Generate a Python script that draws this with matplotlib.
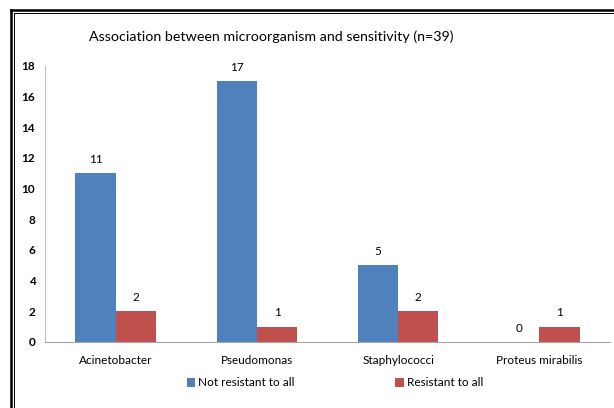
import matplotlib.pyplot as plt
import numpy as np
from matplotlib.lines import Line2D

plt.rcParams['font.family'] = ['Lato', 'DejaVu Sans']

organisms = ['Acinetobacter', 'Pseudomonas', 'Staphylococci', 'Proteus mirabilis']
not_resistant = [11, 17, 5, 0]
resistant = [2, 1, 2, 1]

blue = '#4F81BD'
red = '#C0504D'

fig = plt.figure(figsize=(6.14, 4.08), dpi=100)
ax = fig.add_axes([45/614, (408-342)/408, 565/614, 276/408])

x = np.arange(len(organisms))
w = 0.285
b1 = ax.bar(x - w/2, not_resistant, w, color=blue, label='Not resistant to all')
b2 = ax.bar(x + w/2, resistant, w, color=red, label='Resistant to all')

for bars, vals in [(b1, not_resistant), (b2, resistant)]:
    for bar, v in zip(bars, vals):
        ax.text(bar.get_x() + bar.get_width()/2, v + 0.55, str(v),
                ha='center', va='bottom', fontsize=8.5)

ax.set_xlim(-0.5, 3.5)
ax.set_ylim(0, 18)
ax.set_yticks(range(0, 19, 2))
ax.set_xticks(x)
ax.set_xticklabels(organisms, fontsize=8.5)
for t in ax.get_yticklabels():
    t.set_fontweight('bold')
    t.set_fontsize(8.5)
ax.tick_params(axis='both', length=0)
ax.tick_params(axis='y', pad=7)
ax.tick_params(axis='x', pad=9)
ax.spines['top'].set_visible(False)
ax.spines['right'].set_visible(False)
ax.spines['left'].set_color('#BFBFBF')
ax.spines['bottom'].set_color('#A6A6A6')

fig.text(271/614, 1 - 37/408, 'Association between microorganism and sensitivity (n=39)',
         ha='center', va='center', fontsize=10.3)

fig.legend(handles=[b1, b2], loc='center', bbox_to_anchor=(335/614, 1 - 383/408),
           ncol=2, frameon=False, fontsize=8.5, handlelength=0.7, handleheight=0.7,
           handletextpad=0.3, columnspacing=8.5)

# double border on the left and top
fig.add_artist(Line2D([10.5/614, 10.5/614], [0, 1 - 9.5/408], color='black', lw=1.8,
                      transform=fig.transFigure))
fig.add_artist(Line2D([10.5/614, 1], [1 - 9.5/408, 1 - 9.5/408], color='black', lw=1.8,
                      transform=fig.transFigure))
fig.add_artist(Line2D([13.5/614, 13.5/614], [0, 1 - 12.5/408], color='black', lw=0.7,
                      transform=fig.transFigure))
fig.add_artist(Line2D([13.5/614, 1], [1 - 12.5/408, 1 - 12.5/408], color='black', lw=0.7,
                      transform=fig.transFigure))

fig.savefig('out.png', dpi=100)
